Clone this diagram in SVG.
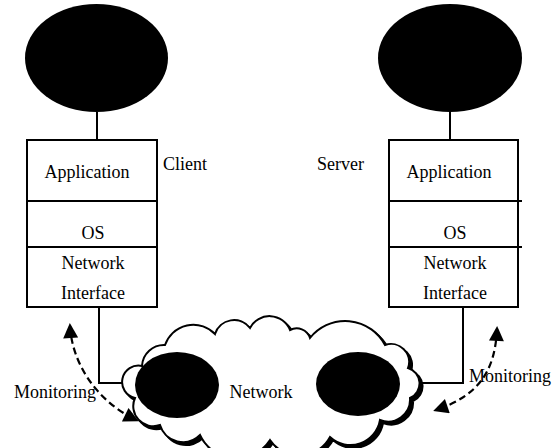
<svg xmlns="http://www.w3.org/2000/svg" width="557" height="448" viewBox="0 0 557 448">
<style>
text{font-family:"Liberation Serif","Times New Roman",serif;font-size:18px;fill:#000}
.blob{fill:#000}
.box{fill:#fff;stroke:#000;stroke-width:2}
.ln{fill:none;stroke:#000;stroke-width:2}
.dash{fill:none;stroke:#000;stroke-width:2.2;stroke-dasharray:7 4}
</style>
<defs>
<marker id="ah" viewBox="0 0 10 10" refX="8" refY="5" markerWidth="17" markerHeight="15" markerUnits="userSpaceOnUse" orient="auto-start-reverse">
<path d="M0,0 L10,5 L0,10 z" fill="#000"/>
</marker>
<path id="cloudShape" d="M135,398 A16,16 0 0 1 142,366 A22,22 0 0 1 165,345 A30,30 0 0 1 215,334 A20,20 0 0 1 250,328 A22,22 0 0 1 290,330 A14,14 0 0 1 310,338 A45,45 0 0 1 385,345 A18,18 0 0 1 408,368 A16,16 0 0 1 410,398 A22,22 0 0 1 380,420 A30,30 0 0 1 330,437 A35,35 0 0 1 270,440 A40,40 0 0 1 200,435 A24,24 0 0 1 160,425 A20,20 0 0 1 135,398 Z"/>
</defs>
<g id="connectors">
<line class="ln" x1="97" y1="112" x2="97" y2="140"/>
<line class="ln" x1="450" y1="112" x2="450" y2="140"/>
<polyline class="ln" points="99,307 99,383 140,383"/>
<polyline class="ln" points="463,307 463,383 400,383"/>
</g>
<g id="network">
<use href="#cloudShape" transform="translate(3,3)" fill="#000" stroke="#000" stroke-width="2"/>
<use href="#cloudShape" fill="#fff" stroke="#000" stroke-width="2"/>
<ellipse class="blob" cx="177" cy="385" rx="42" ry="33"/>
<ellipse class="blob" cx="358" cy="384" rx="42" ry="32"/>
<text x="261" y="398" text-anchor="middle">Network</text>
</g>
<g id="client-blob"><ellipse class="blob" cx="96.5" cy="58" rx="71.5" ry="54"/></g>
<g id="server-blob"><ellipse class="blob" cx="450" cy="58" rx="72" ry="54"/></g>
<g id="client-stack">
<rect class="box" x="27" y="140" width="130" height="167"/>
<line class="ln" x1="27" y1="201" x2="157" y2="201"/>
<line class="ln" x1="27" y1="247" x2="157" y2="247"/>
<text x="87" y="178" text-anchor="middle">Application</text>
<text x="93" y="239" text-anchor="middle">OS</text>
<text x="93" y="269" text-anchor="middle">Network</text>
<text x="93" y="299" text-anchor="middle">Interface</text>
</g>
<g id="client-label"><text x="163" y="170">Client</text></g>
<g id="server-stack">
<rect class="box" x="389" y="140" width="129" height="167"/>
<line class="ln" x1="389" y1="201" x2="522" y2="201"/>
<line class="ln" x1="389" y1="247" x2="522" y2="247"/>
<text x="449" y="178" text-anchor="middle">Application</text>
<text x="455" y="239" text-anchor="middle">OS</text>
<text x="455" y="269" text-anchor="middle">Network</text>
<text x="455" y="299" text-anchor="middle">Interface</text>
</g>
<g id="server-label"><text x="317" y="170">Server</text></g>
<g id="monitoring-left">
<path class="dash" d="M70,326 C72,362 95,400 136,420" marker-start="url(#ah)" marker-end="url(#ah)"/>
<text x="14" y="398">Monitoring</text>
</g>
<g id="monitoring-right">
<path class="dash" d="M497,329 C495,370 480,395 436,410" marker-start="url(#ah)" marker-end="url(#ah)"/>
<text x="469" y="382">Monitoring</text>
</g>
</svg>
